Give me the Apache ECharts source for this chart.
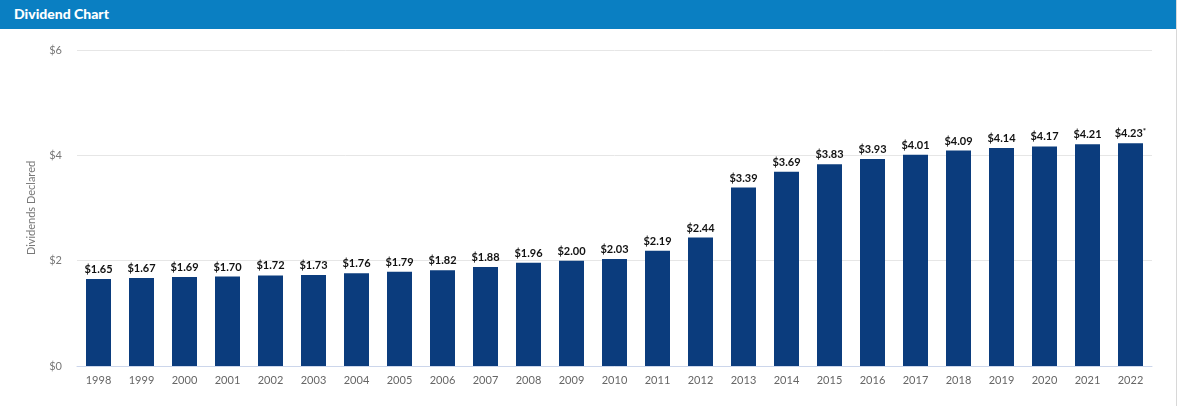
<!DOCTYPE html>
<html>
<head>
<meta charset="utf-8">
<script src="https://cdn.jsdelivr.net/npm/echarts@6/dist/echarts.min.js"></script>
<style>
  html, body { margin: 0; padding: 0; background: #fff; }
  #wrap { width: 1177px; height: 406px; box-sizing: border-box; border-right: 1px solid #d8d8d8; }
  #head { height: 29px; background: #0a7fc2; color: #fff; font-family: Lato, "Open Sans", sans-serif;
          font-weight: 900; font-size: 14px; line-height: 28px; padding-left: 14px; }
  #chart { width: 1176px; height: 377px; }
</style>
</head>
<body>
<div id="wrap">
  <div id="head">Dividend Chart</div>
  <div id="chart"></div>
</div>
<script>
// 数据
var years = ['1998','1999','2000','2001','2002','2003','2004','2005','2006','2007','2008','2009',
  '2010','2011','2012','2013','2014','2015','2016','2017','2018','2019','2020','2021','2022'];
var dividends = [1.65,1.67,1.69,1.70,1.72,1.73,1.76,1.79,1.82,1.88,1.96,2.00,
  2.03,2.19,2.44,3.39,3.69,3.83,3.93,4.01,4.09,4.14,4.17,4.21,4.23];
var notes = ['','','','','','','','','','','','','','','','','','','','','','','','','*'];
var yTicks = [0, 2, 4, 6];

var chart = echarts.init(document.getElementById('chart'));
var option = {
  animation: false,
  textStyle: { fontFamily: 'Lato, "Open Sans", sans-serif' },
  grid: { left: 77, right: 24, top: 21, bottom: 40 },
  xAxis: {
    type: 'category',
    data: years,
    axisLine: { lineStyle: { color: '#ccd6eb' } },
    axisTick: { show: false },
    axisLabel: { color: '#666', fontSize: 11, margin: 9 }
  },
  yAxis: {
    type: 'value',
    min: yTicks[0],
    max: yTicks[yTicks.length - 1],
    interval: 2,
    name: 'Dividends Declared',
    nameLocation: 'middle',
    nameGap: 40,
    nameTextStyle: { color: '#777', fontSize: 11 },
    axisLabel: { color: '#777', fontSize: 11, margin: 15, formatter: function (v) { return '$' + v; } },
    splitLine: { lineStyle: { color: '#e6e6e6' } }
  },
  series: [{
    type: 'bar',
    data: dividends,
    barWidth: 25,
    itemStyle: { color: '#0b3c7d' },
    label: {
      show: true,
      position: 'top',
      distance: 4,
      color: '#111',
      fontSize: 11,
      fontWeight: 'bold',
      formatter: function (p) {
        var n = notes[p.dataIndex];
        return '$' + p.value.toFixed(2) + (n ? '{sup|' + n + '}' : '');
      },
      rich: { sup: { fontSize: 8, verticalAlign: 'top', color: '#111', padding: [0, 0, 4, 0] } }
    }
  }]
};
chart.setOption(option);
</script>
</body>
</html>
